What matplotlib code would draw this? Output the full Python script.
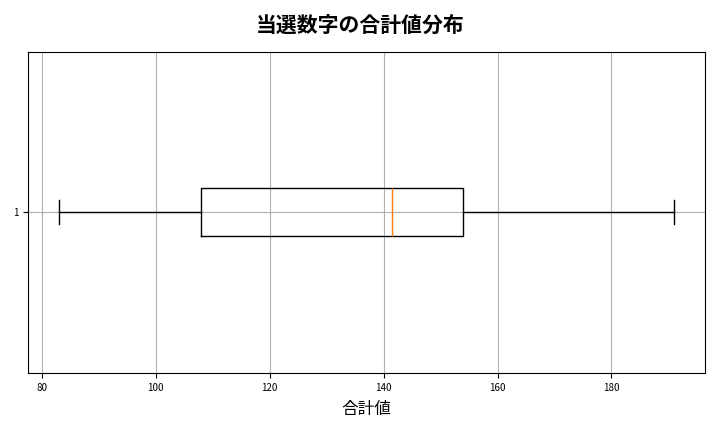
import matplotlib
matplotlib.use("Agg")
import matplotlib.pyplot as plt

plt.rcParams['font.family'] = ['Noto Sans CJK JP', 'DejaVu Sans']

# 合計値の箱ひげ図の統計値
whisker_low = 83
q1 = 108
median = 141.5
q3 = 154
whisker_high = 191
labels = ["1"]

stats = [{
    "label": labels[0],
    "whislo": whisker_low,
    "q1": q1,
    "med": median,
    "q3": q3,
    "whishi": whisker_high,
    "fliers": [],
}]

fig, ax = plt.subplots(figsize=(7.2, 4.32), dpi=100)
ax.bxp(stats, vert=False, showfliers=False)
ax.grid(True)
ax.set_axisbelow(True)
ax.tick_params(labelsize=7)
ax.set_xlabel("合計値", fontsize=12, labelpad=6)
fig.suptitle("当選数字の合計値分布", fontsize=15, fontweight="bold", y=0.966)
fig.subplots_adjust(left=0.039, right=0.979, top=0.88, bottom=0.137)
fig.savefig("out.png")
